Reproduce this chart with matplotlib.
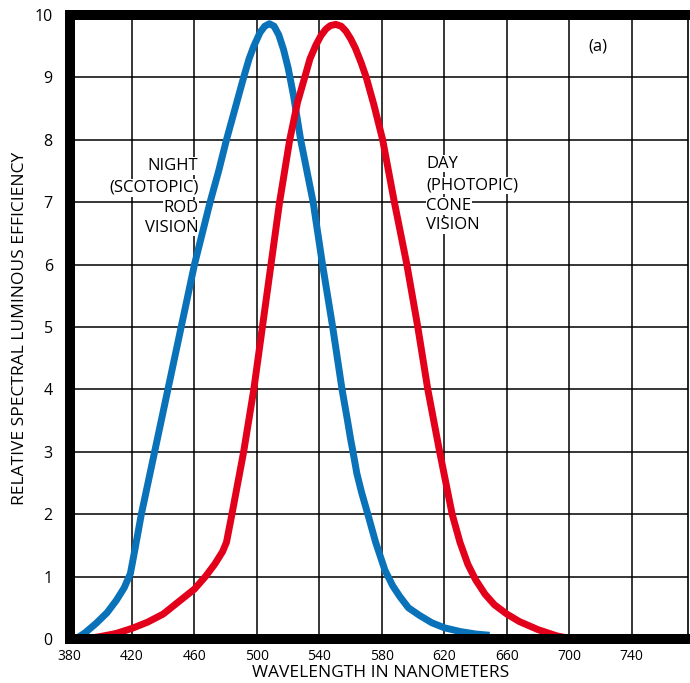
import matplotlib.pyplot as plt

plt.rcParams['font.family'] = ['Open Sans', 'DejaVu Sans']

# scotopic (night, rods) curve
rod_nm = [384, 390, 397, 404, 410, 415, 419, 422, 426, 434.5, 443, 451.5, 460,
          465, 470, 475.5, 480.5, 486, 491.5, 495, 498, 502, 505, 508, 511, 514,
          517, 520, 523.5, 528, 532, 536, 542, 548.5, 554.5, 558, 560, 561.5,
          564, 567, 571, 576, 582, 587, 591.5, 597, 604, 612, 620, 630, 640, 649]
rod_val = [0.0, 0.1, 0.25, 0.42, 0.62, 0.82, 1.05, 1.45, 2.0, 3.0, 4.0, 5.0, 6.0,
           6.5, 7.0, 7.5, 8.0, 8.5, 9.0, 9.3, 9.5, 9.72, 9.82, 9.86, 9.82, 9.68,
           9.45, 9.15, 8.7, 8.0, 7.5, 7.0, 6.0, 5.0, 4.0, 3.5, 3.2, 3.0,
           2.65, 2.35, 2.0, 1.55, 1.1, 0.85, 0.68, 0.5, 0.38, 0.26, 0.18, 0.12, 0.08, 0.06]

# photopic (day, cones) curve
cone_nm = [390, 400, 410, 420, 430, 440, 451, 460, 467, 473, 478, 480.5,
           484, 491.5, 498, 503.5, 509, 514.5, 521, 526, 530.6, 534,
           537.8, 541, 544, 547, 550.5, 554, 557, 560, 563, 566.5, 570, 575,
           580.5, 588, 596, 603, 609.4, 617, 625, 630, 635, 640, 646, 652,
           660, 668, 680, 692, 702]
cone_val = [0.0, 0.04, 0.09, 0.17, 0.27, 0.4, 0.62, 0.8, 1.0, 1.2, 1.4, 1.55,
            2.0, 3.0, 4.0, 5.0, 6.0, 7.0, 8.0, 8.6, 9.0, 9.3,
            9.52, 9.67, 9.77, 9.83, 9.85, 9.82, 9.74, 9.62, 9.47, 9.25, 9.0, 8.55,
            8.0, 7.0, 6.0, 5.0, 4.0, 3.0, 2.0, 1.55, 1.2, 0.95, 0.72, 0.55,
            0.4, 0.28, 0.15, 0.05, 0.0]

x_ticks = [380, 420, 460, 500, 540, 580, 620, 660, 700, 740]
y_ticks = list(range(0, 11))

fig = plt.figure(figsize=(6.9, 6.83), dpi=100)
ax = fig.add_axes([69.5/690, 44/683, 618.5/690, 624/683])
ax.set_xlim(380, 776)
ax.set_ylim(0, 10)

# grid
for x in x_ticks[1:]:
    ax.axvline(x, color='black', lw=1.1, zorder=1)
for y in y_ticks[1:-1]:
    ax.axhline(y, color='black', lw=1.1, zorder=1)

ax.plot(rod_nm, rod_val, color='#0a72b9', lw=5, zorder=3,
        solid_capstyle='butt', solid_joinstyle='round')
ax.plot(cone_nm, cone_val, color='#e2001a', lw=5, zorder=3,
        solid_capstyle='butt', solid_joinstyle='round')

box = dict(facecolor='white', edgecolor='none', pad=0.5)
night = ['NIGHT', '(SCOTOPIC)', 'ROD', 'VISION']
day = ['DAY', '(PHOTOPIC)', 'CONE', 'VISION']
line_y = [7.58, 7.23, 6.9, 6.59]
for s, y in zip(night, line_y):
    ax.text(462.5, y, s, ha='right', va='center', fontsize=12,
            bbox=box, zorder=2)
for s, y in zip(day, line_y):
    ax.text(608.5, y + 0.04, s, ha='left', va='center', fontsize=12,
            bbox=box, zorder=2)

ax.text(718, 9.49, '(a)', ha='center', va='center', fontsize=12)

ax.set_xticks(x_ticks)
ax.set_yticks(y_ticks)
ax.tick_params(axis='x', length=0, pad=7, labelsize=10)
ax.tick_params(axis='y', length=0, pad=12, labelsize=11.5)

for side in ['left', 'bottom', 'top']:
    ax.spines[side].set_linewidth(7.2)
ax.spines['right'].set_linewidth(1.2)
for sp in ax.spines.values():
    sp.set_zorder(4)

fig.text(381/690, 1 - 673/683, 'WAVELENGTH IN NANOMETERS', ha='center',
         va='center', fontsize=12.5)
fig.text(20/690, 1 - 328/683, 'RELATIVE SPECTRAL LUMINOUS EFFICIENCY',
         ha='center', va='center', rotation=90, fontsize=12.5)

fig.savefig('out.png', dpi=100)
